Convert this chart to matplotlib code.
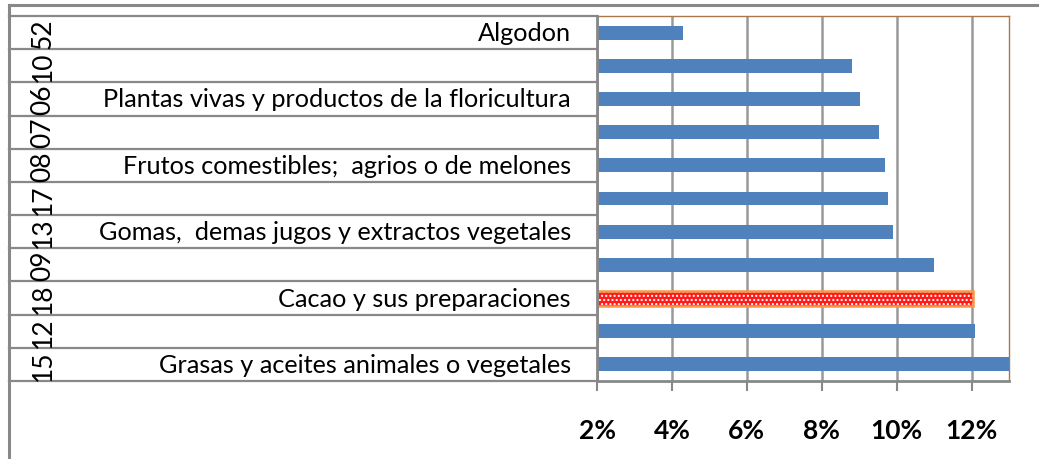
import matplotlib.pyplot as plt
from matplotlib.transforms import blended_transform_factory

codes = ['52', '10', '06', '07', '08', '17', '13', '09', '18', '12', '15']
names = ['Algodon', '', 'Plantas vivas y productos de la floricultura', '',
         'Frutos comestibles;  agrios o de melones', '',
         'Gomas,  demas jugos y extractos vegetales', '',
         'Cacao y sus preparaciones', '', 'Grasas y aceites animales o vegetales']
values = [4.29, 8.8, 9.01, 9.52, 9.68, 9.76, 9.89, 10.99, 12.05, 12.08, 13.0]
highlight = '18'
ticks = [2, 4, 6, 8, 10, 12]

W, H = 1039, 460
fig = plt.figure(figsize=(W / 100, H / 100), dpi=100)
ax = fig.add_axes([597 / W, 78 / H, 412 / W, 365 / H])

font = 'Lato'
grey = '#888888'
blue = '#4f81bd'

y = list(range(len(codes)))[::-1]
base = 2
for yi, c, v in zip(y, codes, values):
    if c == highlight:
        ax.barh(yi, v - base, left=base, height=0.45, color='#ff1a1a', linewidth=0, zorder=3)
        ax.barh(yi, v - base, left=base, height=0.45, facecolor='none', edgecolor='white',
                hatch='....', linewidth=0, zorder=4)
        ax.barh(yi, v - base, left=base, height=0.45, facecolor='none', edgecolor='#f79646',
                linewidth=1.8, zorder=5)
    else:
        ax.barh(yi, v - base, left=base, height=0.42, color=blue, linewidth=0, zorder=3)

ax.set_xlim(2, 13)
ax.set_ylim(-0.5, len(codes) - 0.5)
ax.set_xticks(ticks)
ax.set_xticklabels([f'{t}%' for t in ticks], fontfamily=font, fontweight='bold', fontsize=19)
ax.tick_params(axis='x', length=7, width=1.5, color=grey, pad=20)
ax.set_yticks([])
ax.grid(axis='x', color='#999999', linewidth=1.8, zorder=1)

for s in ['top', 'right']:
    ax.spines[s].set_color('#a8784a')
    ax.spines[s].set_linewidth(1)
for s in ['left', 'bottom']:
    ax.spines[s].set_color(grey)
    ax.spines[s].set_linewidth(2)
    ax.spines[s].set_zorder(6)

# category table on the left
tr = blended_transform_factory(fig.transFigure, ax.transData)
for b in [yi - 0.5 for yi in y] + [y[0] + 0.5]:
    ax.plot([9 / W, 597 / W], [b, b], color=grey, linewidth=1.6, transform=tr, clip_on=False)
for yi, c, n in zip(y, codes, names):
    ax.text(43 / W, yi, c, rotation=90, ha='center', va='center', fontsize=19,
            fontfamily=font, transform=tr)
    if n:
        ax.text(571 / W, yi, n, ha='right', va='center', fontsize=18.2,
                fontfamily=font, transform=tr)

# outer chart frame
fig.add_artist(plt.Line2D([9 / W, 1039 / W], [1 - 6 / H, 1 - 6 / H], color=grey, linewidth=2.2,
                          transform=fig.transFigure))
fig.add_artist(plt.Line2D([9 / W, 9 / W], [1 - 6 / H, 0], color=grey, linewidth=2.2,
                          transform=fig.transFigure))

fig.savefig('out.png', dpi=100)
